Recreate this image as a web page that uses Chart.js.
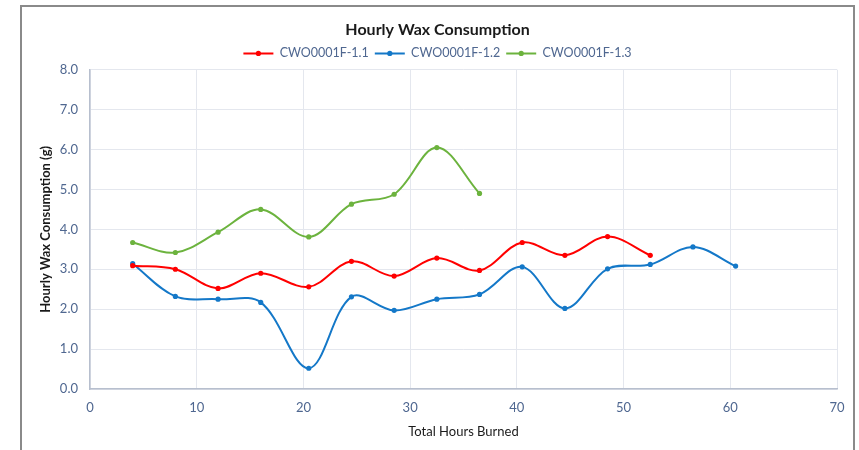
<!DOCTYPE html>
<html>
<head>
<meta charset="utf-8">
<script src="https://cdn.jsdelivr.net/npm/chart.js@4"></script>
<style>
  html, body { margin: 0; padding: 0; background: #fff; }
  #wrap { width: 859px; height: 450px; position: relative; }
</style>
</head>
<body>
<div id="wrap"><canvas id="c" width="859" height="450"></canvas></div>
<script>
// Hours burned (x) and hourly consumption (g) per candle
const hours11 = [4, 8, 12, 16, 20.5, 24.5, 28.5, 32.5, 36.5, 40.5, 44.5, 48.5, 52.5];
const wax11   = [3.09, 3.0, 2.52, 2.9, 2.56, 3.2, 2.83, 3.28, 2.97, 3.67, 3.35, 3.82, 3.35];

const hours12 = [4, 8, 12, 16, 20.5, 24.5, 28.5, 32.5, 36.5, 40.5, 44.5, 48.5, 52.5, 56.5, 60.5];
const wax12   = [3.14, 2.32, 2.25, 2.17, 0.52, 2.31, 1.97, 2.25, 2.37, 3.06, 2.02, 3.01, 3.12, 3.56, 3.08];

const hours13 = [4, 8, 12, 16, 20.5, 24.5, 28.5, 32.5, 36.5];
const wax13   = [3.67, 3.42, 3.93, 4.5, 3.81, 4.63, 4.88, 6.05, 4.9];

const seriesNames = ['CWO0001F-1.1', 'CWO0001F-1.2', 'CWO0001F-1.3'];
const seriesColors = ['#ff0000', '#1478c8', '#6cb33e'];

const tickColor = '#4f6790';
const gridColor = '#e4e7ee';
const fontFam = 'Lato, "Open Sans", sans-serif';

function toPoints(xs, ys) {
    return xs.map((x, i) => ({ x: x, y: ys[i] }));
}

function makeSet(idx, xs, ys) {
    return {
        label: seriesNames[idx],
        data: toPoints(xs, ys),
        borderColor: seriesColors[idx],
        backgroundColor: seriesColors[idx],
        borderWidth: 2,
        pointRadius: 2.6,
        pointBorderWidth: 0,
        pointBackgroundColor: seriesColors[idx],
        tension: 0.35,
        fill: false
    };
}

// outer frame like the exported chart
const framePlugin = {
    id: 'frame',
    beforeDraw(chart) {
        const ctx = chart.ctx;
        ctx.save();
        ctx.fillStyle = '#fff';
        ctx.fillRect(0, 0, chart.width, chart.height);
        ctx.strokeStyle = '#8a8a8a';
        ctx.lineWidth = 2;
        ctx.strokeRect(21, 6, 833, 500);
        ctx.restore();
    }
};

// draw a marker dot on each legend line
const legendDots = {
    id: 'legendDots',
    afterDraw(chart) {
        const lg = chart.legend;
        if (!lg || !lg.legendHitBoxes) return;
        const ctx = chart.ctx;
        const bw = lg.options.labels.boxWidth;
        lg.legendHitBoxes.forEach((hb, i) => {
            ctx.save();
            ctx.fillStyle = seriesColors[i];
            ctx.beginPath();
            ctx.arc(hb.left + bw / 2, hb.top + hb.height / 2, 2.6, 0, Math.PI * 2);
            ctx.fill();
            ctx.restore();
        });
    }
};

const ctx = document.getElementById('c').getContext('2d');
new Chart(ctx, {
    type: 'line',
    data: {
        datasets: [
            makeSet(0, hours11, wax11),
            makeSet(1, hours12, wax12),
            makeSet(2, hours13, wax13)
        ]
    },
    options: {
        responsive: false,
        animation: false,
        layout: { padding: { left: 38, right: 22, top: 0, bottom: 0 } },
        plugins: {
            title: {
                display: true,
                text: 'Hourly Wax Consumption',
                color: '#1a1a1a',
                font: { family: fontFam, size: 16, weight: 'bold' },
                padding: { top: 20, bottom: 2 }
            },
            legend: {
                display: true,
                position: 'top',
                labels: {
                    color: tickColor,
                    font: { family: fontFam, size: 12.5 },
                    boxWidth: 30,
                    boxHeight: 0,
                    padding: 6
                }
            },
            tooltip: { enabled: false }
        },
        scales: {
            x: {
                type: 'linear',
                min: 0,
                max: 70,
                ticks: { stepSize: 10, color: tickColor, font: { family: fontFam, size: 13 }, padding: 11 },
                grid: { color: gridColor, drawTicks: false },
                border: { color: '#b7bfce', width: 1.5 },
                title: {
                    display: true,
                    text: 'Total Hours Burned',
                    color: '#1a1a1a',
                    font: { family: fontFam, size: 13 },
                    padding: { top: 0, bottom: 10 }
                },
                afterFit(scale) { scale.height = 61; }
            },
            y: {
                min: 0,
                max: 8,
                ticks: {
                    stepSize: 1,
                    color: tickColor,
                    font: { family: fontFam, size: 13 },
                    padding: 12,
                    callback: v => v.toFixed(1)
                },
                grid: { color: gridColor, drawTicks: false },
                border: { color: '#b7bfce', width: 1.5 },
                title: {
                    display: true,
                    text: 'Hourly Wax Consumption (g)',
                    color: '#1a1a1a',
                    font: { family: fontFam, size: 13, weight: 'bold' },
                    padding: { top: 0, bottom: 0 }
                },
                afterFit(scale) { scale.width = 52; }
            }
        }
    },
    plugins: [framePlugin, legendDots]
});
</script>
</body>
</html>
